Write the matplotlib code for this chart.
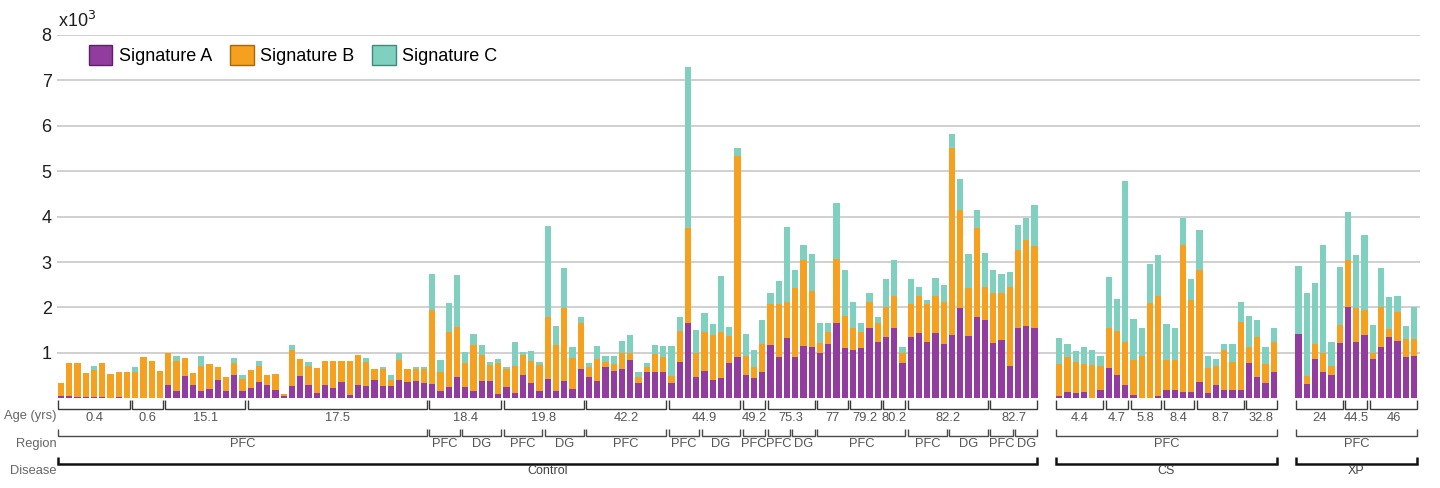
import numpy as np
import matplotlib
matplotlib.use("Agg")
import matplotlib.pyplot as plt
from matplotlib.patches import Patch

plt.rcParams["font.family"] = ["Liberation Sans", "DejaVu Sans"]

# ---- data (x10^3), one entry per sample ----
control_a = [0.05, 0.05, 0.03, 0.02, 0.03, 0.02, 0.01, 0.03, 0.00,
             0.01, 0.00, 0.00, 0.00,
             0.30, 0.16, 0.50, 0.30, 0.16, 0.20, 0.40, 0.16, 0.52, 0.16,
             0.22, 0.35, 0.30, 0.18, 0.06, 0.27, 0.49, 0.29, 0.11, 0.29, 0.22,
             0.36, 0.07, 0.29, 0.27, 0.40, 0.26, 0.26, 0.40, 0.36, 0.39, 0.33,
             0.31, 0.17, 0.24, 0.46, 0.24, 0.17, 0.39, 0.39, 0.10,
             0.24, 0.11, 0.51, 0.34, 0.17, 0.42, 0.17, 0.39, 0.20, 0.64,
             0.47, 0.39, 0.68, 0.61, 0.64, 0.84, 0.34, 0.57, 0.57, 0.57,
             0.33, 0.81, 1.66, 0.48, 0.61, 0.40, 0.44, 0.77, 0.90,
             0.51, 0.44, 0.59,
             1.18, 0.91, 1.32, 0.92, 1.15, 1.13,
             1.00, 1.19, 1.66, 1.10,
             1.06, 1.10, 1.54, 1.25,
             1.36, 1.54, 0.77,
             1.34, 1.44, 1.25, 1.44, 1.19, 1.39, 1.98, 1.37, 1.79, 1.73,
             1.22, 1.28, 0.71, 1.54, 1.59, 1.54]
control_b = [0.29, 0.73, 0.74, 0.54, 0.59, 0.75, 0.53, 0.56, 0.57,
             0.58, 0.92, 0.82, 0.60,
             0.70, 0.66, 0.38, 0.25, 0.56, 0.56, 0.30, 0.32, 0.26, 0.26,
             0.40, 0.36, 0.21, 0.35, 0.04, 0.80, 0.37, 0.43, 0.56, 0.53, 0.60,
             0.46, 0.75, 0.66, 0.53, 0.24, 0.38, 0.14, 0.45, 0.28, 0.25, 0.31,
             1.63, 0.42, 1.22, 1.10, 0.53, 1.00, 0.56, 0.34, 0.67,
             0.40, 0.61, 0.44, 0.49, 0.56, 1.38, 1.00, 1.59, 0.68, 1.01,
             0.22, 0.47, 0.12, 0.14, 0.36, 0.16, 0.12, 0.13, 0.40, 0.35,
             0.16, 0.68, 2.08, 0.52, 0.86, 0.99, 1.03, 0.60, 4.43,
             0.42, 0.25, 0.60,
             0.90, 1.16, 0.79, 1.50, 1.89, 1.23,
             0.21, 0.27, 1.41, 0.71,
             0.48, 0.36, 0.58, 0.40,
             0.64, 0.71, 0.23,
             0.73, 0.81, 0.82, 0.81, 0.93, 4.12, 2.16, 1.05, 1.95, 0.72,
             1.09, 1.03, 1.74, 1.72, 1.90, 1.81]
control_c = [0.00, 0.00, 0.00, 0.00, 0.09, 0.00, 0.00, 0.00, 0.00,
             0.11, 0.00, 0.00, 0.00,
             0.00, 0.11, 0.00, 0.00, 0.21, 0.00, 0.00, 0.00, 0.10, 0.10,
             0.00, 0.12, 0.00, 0.00, 0.00, 0.11, 0.00, 0.08, 0.00, 0.00, 0.00,
             0.00, 0.00, 0.00, 0.08, 0.00, 0.05, 0.11, 0.14, 0.00, 0.05, 0.05,
             0.79, 0.25, 0.63, 1.15, 0.25, 0.24, 0.22, 0.08, 0.09,
             0.06, 0.52, 0.07, 0.22, 0.08, 2.00, 0.42, 0.89, 0.24, 0.13,
             0.08, 0.30, 0.14, 0.18, 0.26, 0.39, 0.11, 0.07, 0.21, 0.23,
             0.66, 0.30, 3.56, 0.50, 0.40, 0.24, 1.22, 0.21, 0.18,
             0.48, 0.37, 0.54,
             0.23, 0.52, 1.67, 0.40, 0.33, 0.81,
             0.45, 0.20, 1.23, 1.01,
             0.58, 0.20, 0.19, 0.14,
             0.62, 0.79, 0.12,
             0.55, 0.19, 0.10, 0.41, 0.38, 0.31, 0.69, 0.76, 0.41, 0.75,
             0.51, 0.42, 0.33, 0.55, 0.49, 0.90]

cs_a = [0.05, 0.13, 0.11, 0.13, 0.00, 0.18, 0.66, 0.51, 0.29,
        0.07, 0.00, 0.00, 0.05, 0.18, 0.18, 0.13, 0.13,
        0.37, 0.11, 0.29, 0.18, 0.18, 0.18, 0.77, 0.46, 0.33, 0.59]
cs_b = [0.71, 0.79, 0.70, 0.63, 0.73, 0.53, 0.88, 0.98, 0.96,
        0.77, 0.93, 2.10, 2.20, 0.66, 0.66, 3.24, 2.04,
        2.46, 0.55, 0.42, 0.88, 0.61, 1.49, 0.37, 0.90, 0.43, 0.66]
cs_c = [0.56, 0.27, 0.24, 0.36, 0.33, 0.22, 1.14, 0.69, 3.54,
        0.90, 0.61, 0.86, 0.91, 0.80, 0.70, 0.59, 0.45,
        0.88, 0.27, 0.15, 0.14, 0.41, 0.46, 0.67, 0.36, 0.38, 0.29]

xp_a = [1.42, 0.31, 0.86, 0.59, 0.51, 1.22, 2.00, 1.25, 1.39,
        0.86, 1.14, 1.36, 1.27, 0.92, 0.93]
xp_b = [0.00, 0.18, 0.33, 0.41, 0.20, 0.39, 1.05, 0.73, 0.56,
        0.14, 0.88, 0.16, 0.62, 0.38, 0.37]
xp_c = [1.49, 1.82, 1.34, 2.38, 0.52, 1.29, 1.06, 1.18, 1.65,
        0.61, 0.84, 0.70, 0.36, 0.29, 0.72]

# ---- annotation groups ----
control_ages = ["0.4", "0.6", "15.1", "17.5", "18.4", "19.8", "42.2", "44.9",
                "49.2", "75.3", "77", "79.2", "80.2", "82.2", "82.7"]
control_age_n = [9, 4, 10, 22, 9, 10, 10, 9, 3, 6, 4, 4, 3, 10, 6]
control_regions = ["PFC", "PFC", "DG", "PFC", "DG", "PFC", "PFC", "DG",
                   "PFC", "PFC", "DG", "PFC", "PFC", "DG", "PFC", "DG"]
control_region_n = [45, 4, 5, 5, 5, 10, 4, 5, 3, 3, 3, 11, 5, 5, 3, 3]
cs_ages = ["4.4", "4.7", "5.8", "8.4", "8.7", "32.8"]
cs_age_n = [6, 3, 4, 4, 6, 4]
xp_ages = ["24", "44.5", "46"]
xp_age_n = [6, 3, 6]

groups = [
    ("Control", control_a, control_b, control_c, control_ages, control_age_n,
     control_regions, control_region_n),
    ("CS", cs_a, cs_b, cs_c, cs_ages, cs_age_n, ["PFC"], [len(cs_a)]),
    ("XP", xp_a, xp_b, xp_c, xp_ages, xp_age_n, ["PFC"], [len(xp_a)]),
]

purple, orange, teal = "#913C9E", "#F5A01E", "#7FD0BE"
gap = 2  # empty slots between disease groups

fig = plt.figure(figsize=(14.4, 4.88), dpi=100)
ax = fig.add_axes([57.3 / 1440, 0.1838, 1362.9 / 1440, 0.7445])


def bracket(s0, s1, ytop, ybot, color, lw):
    x0, x1 = s0 - 0.36, s1 + 0.36
    ax.plot([x0, x0, x1, x1], [ytop, ybot, ybot, ytop], color=color, lw=lw,
            clip_on=False, solid_joinstyle="miter", solid_capstyle="butt")


def brackets(start, labels, counts, ytop, ybot, ytext, color, lw, tcolor, fs):
    s = start
    for lab, n in zip(labels, counts):
        bracket(s, s + n - 1, ytop, ybot, color, lw)
        ax.text(s + (n - 1) / 2, ytext, lab, ha="center", va="center",
                fontsize=fs, color=tcolor, clip_on=False)
        s += n


start = 0
for name, a, b, c, ages, age_n, regions, region_n in groups:
    a, b, c = np.array(a), np.array(b), np.array(c)
    x = np.arange(start, start + len(a))
    ax.bar(x, a, width=0.78, color=purple, linewidth=0)
    ax.bar(x, b, width=0.78, bottom=a, color=orange, linewidth=0)
    ax.bar(x, c, width=0.78, bottom=a + b, color=teal, linewidth=0)
    brackets(start, ages, age_n, -0.04, -0.225, -0.44, "#3a3a3a", 1.0, "#555555", 9.3)
    brackets(start, regions, region_n, -0.665, -0.84, -1.01, "#4a4a4a", 1.0, "#555555", 9.3)
    brackets(start, [name], [len(a)], -1.29, -1.44, -1.6, "#111111", 1.8, "#444444", 9)
    start += len(a) + gap

ax.set_xlim(-0.45, 164.75)
ax.set_ylim(0, 8)
ax.set_yticks(range(1, 9))
ax.set_yticklabels([str(v) for v in range(1, 9)], fontsize=13, color="#1e1e1e")
ax.tick_params(axis="y", length=0, pad=4)
ax.set_xticks([])
ax.yaxis.grid(True, color="#c8c8c8", lw=1.2)
ax.set_axisbelow(True)
for sp in ax.spines.values():
    sp.set_visible(False)

for txt, yv in [("Age (yrs)", -0.39), ("Region", -1.0), ("Disease", -1.59)]:
    ax.text(-0.5, yv, txt, ha="right", va="center", fontsize=9.3,
            color="#666666", clip_on=False)

fig.text(58 / 1440, 1 - 21 / 488, r"x10$^{3}$", fontsize=13, va="center",
         color="#1e1e1e")

handles = [Patch(facecolor=purple, edgecolor="#5c2266", label="Signature A"),
           Patch(facecolor=orange, edgecolor="#a8660a", label="Signature B"),
           Patch(facecolor=teal, edgecolor="#3f8a7a", label="Signature C")]
ax.legend(handles=handles, loc="upper left", ncol=3, frameon=False, fontsize=13,
          bbox_to_anchor=(89 / 1440, 1 - 45 / 488), bbox_transform=fig.transFigure,
          handlelength=1.3, handleheight=1.3, handletextpad=0.35,
          columnspacing=1.0, borderpad=0, borderaxespad=0)

fig.savefig("out.png", dpi=100)
